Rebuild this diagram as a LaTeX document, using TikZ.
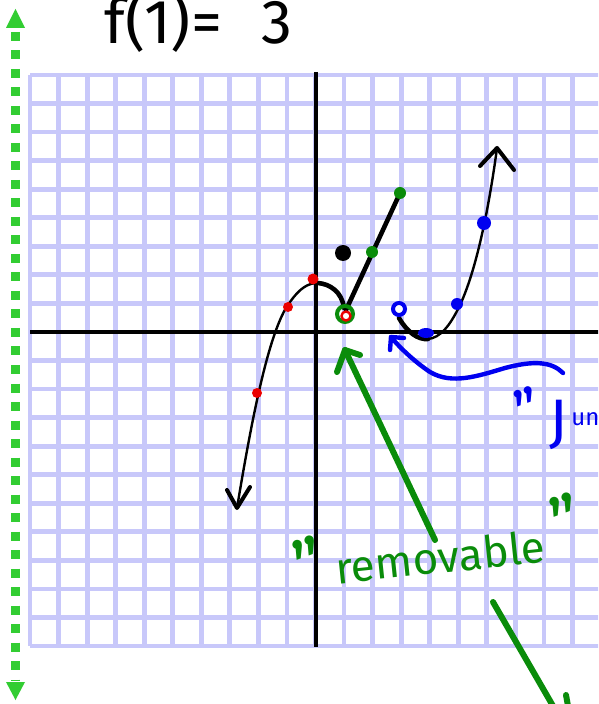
\documentclass[tikz,border=0pt]{standalone}
\usepackage{fontspec}
\setmainfont{Fira Sans}
\definecolor{gridc}{RGB}{200,200,250}
\definecolor{lgreen}{RGB}{50,205,50}
\definecolor{dgreen}{RGB}{10,140,10}
\definecolor{pred}{RGB}{235,0,0}
\definecolor{pblue}{RGB}{0,0,240}
\tikzset{
  gridline/.style={gridc, line width=2.4pt},
  axisline/.style={black, line width=1.6pt},
  thincurve/.style={black, line width=1.2pt, line cap=round, line join=round},
  thickcurve/.style={black, line width=2.3pt, line cap=round, line join=round},
  gmark/.style={dgreen, line width=3pt, line cap=round, line join=round},
  bmark/.style={pblue, line width=2.2pt, line cap=round, line join=round},
  lbl/.style={inner sep=0pt},
  quo/.style={inner sep=0pt, anchor=center, rotate=20}
}
\begin{document}
\begin{tikzpicture}[x=0.5pt,y=-0.5pt]
\useasboundingbox (0,0) rectangle (598,704);
\fill[white] (0,0) rectangle (598,704);
% grid
\begin{scope}
\clip (0,0) rectangle (598,704);
\foreach \i in {0,...,20} {
  \draw[gridline] ({30+28.55*\i},75) -- ({30+28.55*\i},646);
  \draw[gridline] (30,{75+28.55*\i}) -- (602,{75+28.55*\i});
}
% axes
\draw[axisline] (316,72) -- (316,647);
\draw[axisline] (30,332) -- (600,332);
\end{scope}
% green dashed double arrow on the left
\draw[lgreen, line width=4.5pt, dash pattern=on 4.5pt off 4.75pt] (15.5,32) -- (15.5,680);
\fill[lgreen] (15.5,9) -- (25,28) -- (6,28) -- cycle;
\fill[lgreen] (15.5,700) -- (25,682) -- (6,682) -- cycle;
% title
\node[lbl, anchor=base west, font=\fontsize{31}{34}\selectfont] (title) at (104,44) {f(1)=\hspace{20pt}3};
% left curve
\coordinate (la) at (237,508);
\draw[thincurve] (la) .. controls (250,430) and (268,330) .. (290,302)
   .. controls (300,288) and (308,283) .. (318,283);
\draw[thickcurve] (318,283) .. controls (330,284) and (342,292) .. (344,308);
\draw[thincurve, line width=2pt] (227,490) -- (la) -- (250,487);
% red points
\fill[pred] (257,393) circle (5);
\fill[pred] (288,307) circle (5);
\fill[pred] (313,279) circle (5.5);
% line segment
\draw[thickcurve] (346,310) -- (400,193);
\fill[dgreen] (400,193) circle (6);
\fill[dgreen] (372,252) circle (6);
% removable hole
\draw[dgreen, line width=2pt] (345,314) circle (8);
\draw[pred, line width=1.2pt, fill=white] (346,316) circle (4.5);
% f(1)=3
\fill[black] (343,253) circle (8);
% right curve
\coordinate (ra) at (497,148);
\draw[thickcurve] (399,318) .. controls (407,332) and (418,340) .. (428,339);
\draw[thincurve] (428,339) .. controls (440,338) and (450,326) .. (460,305)
   .. controls (475,273) and (488,215) .. (ra);
\draw[thincurve, line width=2pt] (480,166) -- (ra) -- (514,170);
% blue points
\draw[pblue, line width=2pt, fill=white] (399,309) circle (6);
\fill[pblue] (426,333) ellipse (8 and 5);
\fill[pblue] (457,304) circle (6);
\fill[pblue] (484,223) circle (7);
% blue jump arrow
\coordinate (bt) at (391,337);
\draw[bmark] (563,373) .. controls (552,362) and (535,360) .. (505,368)
   .. controls (478,376) and (452,385) .. (430,372)
   .. controls (415,362) and (400,348) .. (bt);
\draw[bmark] (390,350) -- (bt) -- (404,338);
\node[quo, pblue, font=\fontsize{30}{32}\selectfont] (jq) at (529,410) {\char34};
\node[lbl, pblue, anchor=base west, font=\fontsize{30}{32}\selectfont] (jJ) at (549,441) {J};
\node[lbl, pblue, anchor=base west, font=\fontsize{12}{14}\selectfont] (jun) at (571,425) {un};
% removable arrow
\coordinate (gt) at (345,350);
\draw[gmark] (435,540) -- (gt);
\draw[gmark] (337,372) -- (gt) -- (360,355);
\node[lbl, dgreen, anchor=base, rotate=6, font=\fontsize{22}{24}\selectfont] (rem) at (442,573) {removable};
\node[quo, dgreen, font=\fontsize{36}{38}\selectfont] (lq) at (311,564) {\char34};
\node[quo, dgreen, font=\fontsize{36}{38}\selectfont] (rq) at (568,521) {\char34};
% bottom right green strokes
\draw[gmark] (493,602) -- (553,706);
\draw[gmark] (566,695) -- (568,706);
\end{tikzpicture}
\end{document}
